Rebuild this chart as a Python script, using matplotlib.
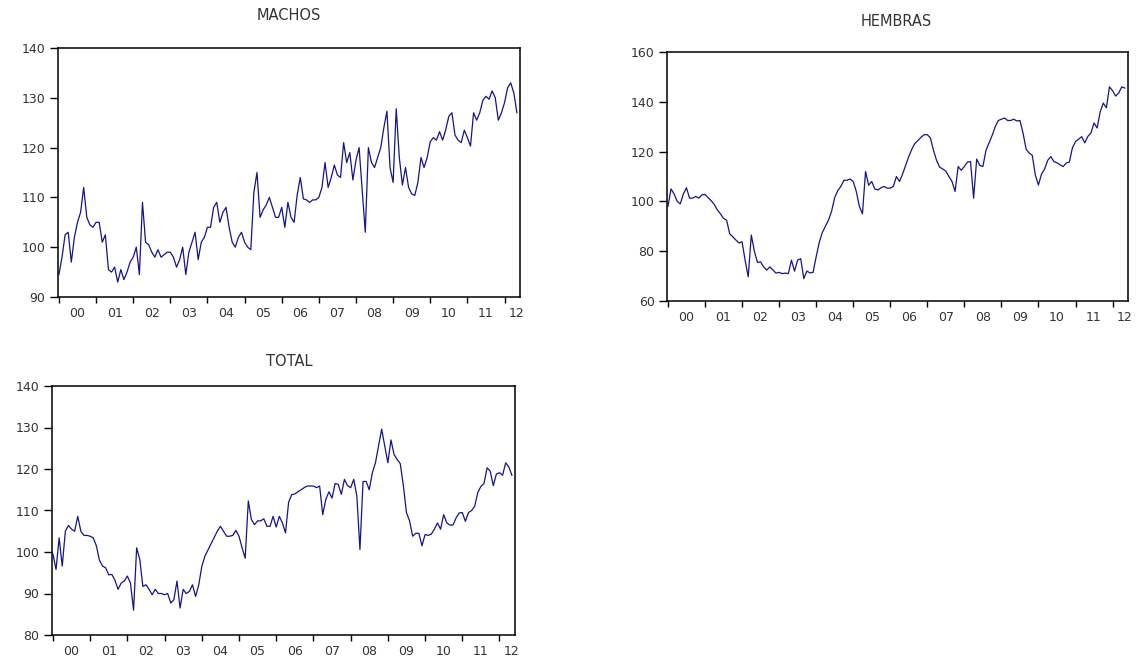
import numpy as np
import matplotlib
matplotlib.use('Agg')
import matplotlib.pyplot as plt

# monthly series, Jan 2000 .. May 2012
machos = [94.5, 98, 102.5, 103, 97, 102, 105, 107, 112, 106, 104.5, 104,
          105, 105, 101, 102.5, 95.5, 95, 96, 93, 95.5, 93.5, 95, 97,
          98, 100, 94.5, 109, 101, 100.5, 99, 98, 99.5, 98, 98.5, 99,
          99, 98, 96, 97.5, 100, 94.5, 99, 101, 103, 97.5, 101, 102,
          104, 104, 108, 109, 105, 107, 108, 104, 101, 100, 102, 103,
          101, 100, 99.5, 111, 115, 106, 107.5, 108.5, 110, 108, 106, 106,
          108, 104, 109, 106, 105, 110.5, 114, 109.7, 109.5, 109, 109.5, 109.5,
          110, 112, 117, 112, 114, 116.5, 114.5, 114, 121, 117, 119, 113.5,
          117.5, 120, 111.4, 103, 120, 117, 116, 118, 120, 124, 127.3, 116,
          113, 127.8, 118, 112.5, 116, 112, 110.7, 110.4, 113, 118, 116, 118,
          121.2, 122, 121.5, 123.2, 121.5, 123.6, 126.3, 127, 122.5, 121.5, 121, 123.5,
          122, 120.3, 127, 125.5, 127, 129.5, 130.3, 129.7, 131.4, 130, 125.5, 127,
          129, 132, 133, 131, 127]

hembras = [98, 105, 103, 100, 99, 103, 105.5, 101.3, 101.3, 102, 101.3, 102.6,
           102.8, 101.5, 100.3, 98.8, 96.6, 95, 93.2, 92.5, 87, 85.8, 84.5, 83.3,
           83.8, 76.4, 69.7, 86.5, 80, 75.5, 75.7, 73.7, 72.4, 73.7, 72.5, 71.2,
           71.5, 71, 71.2, 71, 76.4, 72, 76.4, 77, 69, 72, 71.3, 71.5,
           77.7, 83.5, 87.5, 90, 92.5, 96, 101.5, 104.3, 106, 108.5, 108.5, 109,
           108, 104, 98, 95, 112, 106.5, 108, 105, 104.6, 105.5, 106, 105.3,
           105.3, 106, 110, 108, 111, 114.5, 118, 121, 123.3, 124.5, 125.8, 126.8,
           126.8, 125.5, 120.5, 116.5, 113.8, 113, 112.2, 110, 108, 104, 114, 112.5,
           114, 115.8, 116, 101.3, 117, 114.5, 114, 120.5, 123.5, 126.5, 130, 132.5,
           133, 133.5, 132.5, 132.5, 133, 132.3, 132.5, 127.5, 121, 119.4, 118.5, 110.5,
           106.6, 111, 113, 116.5, 118, 116, 115.5, 114.7, 114, 115.4, 115.8, 121.5,
           124, 125, 126, 123.5, 126.1, 127.5, 131.5, 129.5, 136, 139.5, 137.6, 146,
           144.5, 142.3, 143.6, 146, 145.5]

total = [99.5, 95.8, 103.4, 96.6, 105, 106.4, 105.5, 105, 108.6, 105, 104, 104,
         103.8, 103.4, 101.5, 98, 96.6, 96.2, 94.5, 94.6, 93.2, 91, 92.5, 93,
         94.2, 92.5, 86, 101, 98.2, 91.7, 92.1, 91, 89.7, 91, 90, 90,
         89.7, 90, 87.7, 88.5, 93, 86.5, 91, 90, 90.5, 92.1, 89.3, 92,
         96.5, 99, 100.5, 102, 103.5, 105, 106.2, 105, 103.8, 103.8, 104, 105.2,
         103.8, 101, 98.5, 112.3, 107.8, 106.6, 107.5, 107.5, 108, 106.2, 106.2, 108.6,
         106, 108.6, 107, 104.6, 112, 113.8, 114, 114.5, 115, 115.5, 115.9, 115.9,
         115.9, 115.5, 115.9, 109, 112.7, 114.5, 113, 116.5, 116.3, 113.9, 117.5, 116,
         115.5, 117.5, 113.5, 100.6, 117, 117, 115, 119.1, 121.5, 125.5, 129.6, 125.5,
         121.5, 127, 123.5, 122.3, 121.3, 116, 109.5, 107.5, 103.8, 104.5, 104.5, 101.5,
         104.2, 104, 104.3, 105.5, 107, 105.5, 109, 107, 106.5, 106.5, 108.2, 109.4,
         109.5, 107.4, 109.5, 110, 111, 114.3, 115.8, 116.5, 120.3, 119.5, 116, 118.8,
         119.1, 118.5, 121.5, 120.5, 118.5]

years = ['00', '01', '02', '03', '04', '05', '06', '07', '08', '09', '10', '11', '12']

line_color = '#14148c'
txt_color = '#333333'
plt.rcParams['font.family'] = ['DejaVu Sans']

W, H = 1139, 662
fig = plt.figure(figsize=(W / 100, H / 100), dpi=100)
fig.patch.set_facecolor('white')


def make_axes(left, right, top, bottom):
    return fig.add_axes([left / W, 1 - bottom / H, (right - left) / W, (bottom - top) / H])


def draw_panel(ax, values, ylim, yticks, title, title_xy):
    x = np.arange(len(values))
    ax.plot(x, values, color=line_color, lw=0.9)
    ax.set_xlim(-0.3, 149)
    ax.set_ylim(*ylim)
    ax.set_yticks(yticks)
    ax.set_xticks(np.arange(0, 145, 12))
    ax.set_xticklabels([])
    centers = list(np.arange(6, 140, 12)) + [148]
    ax.set_xticks(centers, minor=True)
    ax.set_xticklabels(years, minor=True)
    ax.tick_params(axis='x', which='major', direction='out', length=4, width=1, color='black')
    ax.tick_params(axis='x', which='minor', length=0, pad=7, labelsize=9, labelcolor=txt_color)
    ax.tick_params(axis='y', direction='out', length=6, width=1, pad=3, labelsize=9,
                   labelcolor=txt_color)
    for s in ax.spines.values():
        s.set_color('black')
        s.set_linewidth(1.1)
    fig.text(title_xy[0] / W, 1 - title_xy[1] / H, title, ha='center', va='center',
             fontsize=10.5, color=txt_color)


ax1 = make_axes(58, 520, 48, 297)
draw_panel(ax1, machos, (90, 140), [90, 100, 110, 120, 130, 140], 'MACHOS', (289, 16))

ax2 = make_axes(667, 1128, 52, 301)
draw_panel(ax2, hembras, (60, 160), [60, 80, 100, 120, 140, 160], 'HEMBRAS', (896, 22))

ax3 = make_axes(52, 515, 386, 635)
draw_panel(ax3, total, (80, 140), [80, 90, 100, 110, 120, 130, 140], 'TOTAL', (289, 362))

fig.savefig('out.png', dpi=100)
